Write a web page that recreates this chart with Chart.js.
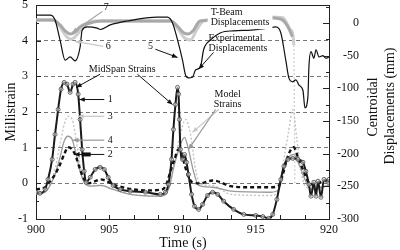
<!DOCTYPE html>
<html lang="en">
<head>
  <meta charset="UTF-8" />
  <title>MidSpan strains and centroidal displacements</title>
  <script src="https://cdn.jsdelivr.net/npm/chart.js"></script>
  <style>
    html, body { margin: 0; padding: 0; background: #fff; }
    #wrap { width: 400px; height: 250px; }
  </style>
</head>
<body>
<div id="wrap"><canvas id="chart" width="400" height="250"></canvas></div>
<script>
// --- data (time in s, strain in millistrain, displacement in mm) ---
const xTicks = [900, 905, 910, 915, 920];
const leftTicks = [-1, 0, 1, 2, 3, 4, 5];
const rightTicks = [0, -50, -100, -150, -200, -250, -300];

// 1: MidSpan strains (experimental, circles)
const t1 = [900.00, 900.27, 900.62, 900.82, 901.10, 901.30, 901.51, 901.71, 901.92, 902.12, 902.33, 902.53, 902.67, 902.88, 903.01, 903.15, 903.29, 903.42, 903.70, 904.04, 904.38, 904.66, 904.93, 905.27, 905.75, 906.44, 907.47, 908.49, 908.84, 909.04, 909.25, 909.38, 909.52, 909.66, 909.73, 909.79, 909.86, 910.00, 910.14, 910.27, 910.41, 910.62, 910.82, 911.10, 911.37, 911.71, 912.05, 912.40, 912.81, 913.49, 914.18, 915.00, 915.48, 915.89, 916.16, 916.44, 916.71, 916.92, 917.19, 917.53, 917.88, 918.22, 918.42, 918.63, 918.77, 918.97, 919.11, 919.25, 919.45, 919.66, 919.93, 920.00];
const s1 = [-0.25, -0.28, -0.17, 0.11, 0.67, 1.37, 2.07, 2.64, 2.83, 2.78, 2.55, 2.78, 2.83, 2.50, 1.79, 0.95, 0.34, 0.03, 0.17, 0.39, 0.45, 0.39, 0.17, -0.06, -0.17, -0.22, -0.25, -0.31, -0.25, -0.03, 0.67, 1.51, 2.21, 2.69, 2.50, 1.79, 0.95, 0.67, 0.81, 0.59, 0.25, -0.31, -0.64, -0.73, -0.59, -0.34, -0.25, -0.31, -0.50, -0.73, -0.87, -0.90, -0.93, -0.98, -0.87, -0.45, 0.11, 0.48, 0.67, 0.70, 0.67, 0.59, 0.34, -0.03, -0.36, 0.03, -0.36, 0.06, -0.39, 0.11, 0.03, 0.11];

// 2: thick dashed black
const t2 = [900.00, 900.62, 900.96, 901.30, 901.64, 901.92, 902.19, 902.47, 902.74, 903.01, 903.29, 903.56, 904.04, 904.38, 904.73, 905.27, 906.23, 907.47, 908.63, 908.90, 909.18, 909.45, 909.73, 909.93, 910.14, 910.41, 910.68, 911.23, 912.05, 912.60, 913.29, 914.66, 916.03, 916.58, 916.85, 917.12, 917.40, 917.60, 917.88, 918.22, 918.56, 918.77, 919.11, 919.45, 920.00];
const s2 = [-0.17, -0.11, 0.06, 0.25, 0.53, 0.81, 1.01, 0.95, 0.73, 0.39, 0.11, 0.00, 0.06, 0.11, 0.08, -0.03, -0.14, -0.20, -0.17, -0.03, 0.34, 0.67, 0.95, 0.87, 0.53, 0.17, 0.03, 0.00, 0.08, 0.03, -0.08, -0.11, -0.11, -0.06, 0.25, 0.67, 0.95, 1.01, 0.73, 0.39, 0.06, -0.03, 0.00, 0.03, 0.11];

// 3: light gray dotted (model)
const t3 = [900.00, 900.62, 900.96, 901.30, 901.64, 901.92, 902.19, 902.47, 902.74, 903.01, 903.29, 903.56, 904.38, 905.27, 906.44, 908.49, 909.04, 909.45, 909.86, 910.21, 910.55, 910.89, 911.23, 912.05, 913.29, 916.03, 916.58, 916.92, 917.26, 917.53, 917.81, 918.08, 918.42, 919.11, 920.00];
const s3 = [-0.25, -0.22, -0.03, 0.39, 1.09, 1.65, 1.88, 1.79, 1.23, 0.53, 0.06, -0.06, -0.06, -0.17, -0.31, -0.36, -0.17, 0.53, 1.37, 1.79, 1.37, 0.39, -0.03, -0.06, -0.31, -0.34, -0.17, 0.67, 1.51, 2.07, 1.23, 0.39, -0.11, -0.17, -0.03];

// 4: gray (model)
const t4 = [900.00, 900.62, 900.96, 901.30, 901.64, 901.92, 902.19, 902.47, 902.74, 903.01, 903.29, 903.70, 904.38, 905.27, 906.44, 908.49, 909.04, 909.45, 909.86, 910.14, 910.41, 910.75, 911.10, 912.05, 913.29, 916.03, 916.58, 916.92, 917.26, 917.60, 917.95, 918.36, 918.77, 919.45, 920.00];
const s4 = [-0.31, -0.25, -0.06, 0.25, 0.73, 1.18, 1.32, 1.23, 0.81, 0.34, 0.03, -0.08, -0.06, -0.17, -0.31, -0.36, -0.17, 0.53, 1.09, 1.29, 0.95, 0.34, -0.06, -0.11, -0.22, -0.25, -0.17, 0.39, 0.73, 0.81, 0.53, 0.11, -0.17, -0.11, -0.06];

// 5: experimental displacements (mm)
const t5 = [900.00, 900.96, 901.30, 901.64, 901.99, 902.33, 902.67, 903.01, 903.15, 903.49, 904.18, 904.38, 905.07, 906.23, 908.29, 908.97, 909.32, 909.66, 910.00, 910.21, 910.41, 910.68, 910.89, 911.23, 911.44, 911.92, 912.60, 913.49, 914.66, 915.82, 916.37, 916.71, 917.05, 917.26, 917.53, 917.74, 917.95, 918.22, 918.36, 918.56, 918.63, 918.77, 918.97, 919.11, 919.32, 919.59, 919.79, 920.00];
const d5 = [12, 12, 4.6, -26, -57, -52, -58, -37, -11, -6, -8, -10, -3, 3, 9, 9, 0, -26, -57, -80, -84, -83, -72, -67, -41, -26, -15, -12, -11, -8, -6, -15, -57, -84, -90, -87, -95, -103, -130, -113, -67, -44, -54, -41, -52, -50, -54, -52];

// 6: T-beam displacements, light gray
const t6 = [900.00, 901.16, 901.64, 902.05, 902.40, 902.80, 903.35, 904.00, 909.20, 909.66, 910.14, 910.55, 910.96, 911.44, 915.90, 916.85, 917.40, 917.60, 917.67];
const d6 = [4.6, 4.6, -6, -20, -25, -18, -3, 3, 3, -8, -23, -26, -11, 3, 9, 8, -11, -34, -245];

// 7: T-beam displacements, gray
const t7 = [900.00, 901.16, 901.64, 901.99, 902.33, 902.67, 903.00, 903.70, 904.40, 909.20, 909.66, 910.07, 910.40, 910.75, 911.20, 915.70, 916.70, 917.20, 917.50];
const d7 = [4.6, 4.6, -3, -12, -17, -14, -6, 0, 3, 3, -5, -15, -17, -11, 3, 8, 6, -6, -21];

const pts = (xs, ys) => xs.map((x, i) => ({ x: x, y: ys[i] }));
const SERIF = '"Liberation Serif", "DejaVu Serif", serif';

// labels and arrows, placed in (time, millistrain) coordinates
const notes = [
  { text: ['7'], t: 904.79, v: 4.93, align: 'center' },
  { text: ['6'], t: 904.93, v: 3.84, align: 'center' },
  { text: ['5'], t: 907.81, v: 3.84, align: 'center' },
  { text: ['MidSpan Strains'], t: 905.89, v: 3.20, align: 'center' },
  { text: ['1'], t: 905.07, v: 2.35, align: 'center' },
  { text: ['3'], t: 905.07, v: 1.88, align: 'center' },
  { text: ['4'], t: 905.07, v: 1.21, align: 'center' },
  { text: ['2'], t: 905.07, v: 0.81, align: 'center' },
  { text: ['T-Beam', 'Displacements'], t: 911.92, v: 4.80, align: 'left', mask: true },
  { text: ['Experimental', 'Displacements'], t: 911.78, v: 4.07, align: 'left' },
  { text: ['Model', 'Strains'], t: 913.08, v: 2.50, align: 'center' }
];
const arrows = [
  { from: [904.52, 4.82], to: [902.47, 4.23], color: '#a8a8a8', w: 1.2 },
  { from: [904.59, 3.84], to: [902.67, 3.98], color: '#c8c8c8', w: 1.2 },
  { from: [908.15, 3.76], to: [909.66, 3.53], color: '#111', w: 1 },
  { from: [904.38, 3.06], to: [902.74, 2.69], color: '#111', w: 1 },
  { from: [906.92, 3.06], to: [909.32, 2.21], color: '#111', w: 1 },
  { from: [904.66, 2.35], to: [902.95, 2.35], color: '#111', w: 1 },
  { from: [904.66, 1.88], to: [902.88, 1.88], color: '#c8c8c8', w: 1.2 },
  { from: [904.66, 1.21], to: [902.53, 1.21], color: '#999', w: 1.2 },
  { from: [904.66, 0.81], to: [902.60, 0.81], color: '#111', w: 1, thick: true },
  { from: [912.12, 3.67], to: [911.10, 3.20], color: '#111', w: 1 },
  { from: [912.47, 2.07], to: [910.68, 1.43], color: '#c8c8c8', w: 1.2 },
  { from: [912.26, 2.07], to: [910.41, 0.95], color: '#999', w: 1.2 }
];

function noPad(s) { s.paddingTop = 0; s.paddingBottom = 0; s.paddingLeft = 0; s.paddingRight = 0; }

const decor = {
  id: 'decor',
  afterDatasetsDraw(chart) {
    const { ctx, scales } = chart;
    const x = scales.x, y = scales.y;
    ctx.save();
    ctx.font = '10px ' + SERIF;
    ctx.textBaseline = 'middle';
    notes.forEach(n => {
      const px = x.getPixelForValue(n.t), py = y.getPixelForValue(n.v);
      ctx.textAlign = n.align;
      if (n.mask) {
        const w = Math.max(...n.text.map(s => ctx.measureText(s).width));
        ctx.fillStyle = '#fff';
        ctx.fillRect(px - 3, py - 7, w + 6, n.text.length * 10 + 4);
      }
      ctx.fillStyle = '#111';
      n.text.forEach((s, i) => ctx.fillText(s, px, py + i * 10));
    });
    arrows.forEach(r => {
      const x1 = x.getPixelForValue(r.from[0]), y1 = y.getPixelForValue(r.from[1]);
      const x2 = x.getPixelForValue(r.to[0]), y2p = y.getPixelForValue(r.to[1]);
      ctx.strokeStyle = r.color; ctx.fillStyle = r.color; ctx.lineWidth = r.w;
      ctx.beginPath(); ctx.moveTo(x1, y1); ctx.lineTo(x2, y2p); ctx.stroke();
      if (r.thick) {
        ctx.lineWidth = 4;
        ctx.beginPath();
        ctx.moveTo(x2 + (x1 - x2) * 0.25, y2p); ctx.lineTo(x2 + (x1 - x2) * 0.55, y2p);
        ctx.stroke();
      }
      const ang = Math.atan2(y2p - y1, x2 - x1), L = 6;
      ctx.beginPath();
      ctx.moveTo(x2, y2p);
      ctx.lineTo(x2 - L * Math.cos(ang - 0.4), y2p - L * Math.sin(ang - 0.4));
      ctx.lineTo(x2 - L * Math.cos(ang + 0.4), y2p - L * Math.sin(ang + 0.4));
      ctx.closePath(); ctx.fill();
    });
    ctx.restore();
  },
  afterDraw(chart) {
    const { ctx, chartArea: a, scales } = chart;
    const x = scales.x, y = scales.y, y2 = scales.y2;
    ctx.save();
    ctx.strokeStyle = '#222'; ctx.lineWidth = 1;
    // top frame line
    ctx.beginPath(); ctx.moveTo(a.left, a.top + 0.5); ctx.lineTo(a.right, a.top + 0.5); ctx.stroke();
    // inward ticks
    ctx.beginPath();
    for (let v = -1; v <= 5.001; v += 0.5) {
      const py = Math.round(y.getPixelForValue(v)) + 0.5, len = Number.isInteger(v) ? 5 : 3;
      ctx.moveTo(a.left, py); ctx.lineTo(a.left + len, py);
    }
    for (let m = -300; m <= 25; m += 25) {
      const py = Math.round(y2.getPixelForValue(m)) + 0.5, len = m % 50 === 0 ? 6 : 3;
      ctx.moveTo(a.right, py); ctx.lineTo(a.right - len, py);
    }
    for (let k = 1; k < 12; k++) {
      const px = Math.round(x.getPixelForValue(900 + k * 5 / 3)) + 0.5;
      ctx.moveTo(px, a.bottom); ctx.lineTo(px, a.bottom - 4);
    }
    ctx.stroke();
    // right tick labels
    ctx.fillStyle = '#111';
    ctx.font = '12px ' + SERIF;
    ctx.textAlign = 'right'; ctx.textBaseline = 'middle';
    rightTicks.forEach(m => ctx.fillText(String(m), a.right + 30, y2.getPixelForValue(m)));
    // axis titles
    ctx.font = '14px ' + SERIF;
    ctx.textAlign = 'center';
    ctx.fillText('Time (s)', 183, 243);
    ctx.save(); ctx.translate(11, 112); ctx.rotate(-Math.PI / 2); ctx.fillText('Millistrain', 0, 0); ctx.restore();
    ctx.save(); ctx.translate(373, 107); ctx.rotate(-Math.PI / 2); ctx.fillText('Centroidal', 0, 0); ctx.restore();
    ctx.save(); ctx.translate(390, 106); ctx.rotate(-Math.PI / 2); ctx.fillText('Displacements (mm)', 0, 0); ctx.restore();
    ctx.restore();
  }
};

// the last drop of series 6 is drawn thin and dotted, as in the source figure
const lastSeg = (ctx, n) => ctx.p1DataIndex === n - 1;

new Chart(document.getElementById('chart').getContext('2d'), {
  type: 'line',
  data: {
    datasets: [
      {
        label: '1', data: pts(t1, s1), yAxisID: 'y',
        borderColor: '#1a1a1a', borderWidth: 2,
        pointRadius: 2, pointBorderWidth: 0.8, pointBorderColor: '#444',
        pointBackgroundColor: 'rgba(255,255,255,0.5)', cubicInterpolationMode: 'monotone'
      },
      {
        label: '2', data: pts(t2, s2), yAxisID: 'y',
        borderColor: '#111', borderWidth: 2.4, borderDash: [4, 3],
        pointRadius: 0, cubicInterpolationMode: 'monotone'
      },
      {
        label: '4', data: pts(t4, s4), yAxisID: 'y',
        borderColor: '#9a9a9a', borderWidth: 1.3,
        pointRadius: 0, cubicInterpolationMode: 'monotone'
      },
      {
        label: '3', data: pts(t3, s3), yAxisID: 'y',
        borderColor: '#c4c4c4', borderWidth: 1.4, borderDash: [2, 2],
        pointRadius: 0, cubicInterpolationMode: 'monotone'
      },
      {
        label: '5', data: pts(t5, d5), yAxisID: 'y2',
        borderColor: '#111', borderWidth: 1.2,
        pointRadius: 0, cubicInterpolationMode: 'monotone'
      },
      {
        label: '7', data: pts(t7, d7), yAxisID: 'y2',
        borderColor: '#a8a8a8', borderWidth: 3,
        pointRadius: 0, cubicInterpolationMode: 'monotone'
      },
      {
        label: '6', data: pts(t6, d6), yAxisID: 'y2',
        borderColor: '#cdcdcd', borderWidth: 3,
        pointRadius: 0, cubicInterpolationMode: 'monotone',
        segment: {
          borderWidth: c => lastSeg(c, t6.length) ? 1.2 : 3,
          borderDash: c => lastSeg(c, t6.length) ? [2, 2] : undefined
        }
      }
    ]
  },
  options: {
    responsive: false,
    animation: false,
    layout: { padding: { top: 5, left: 0, right: 0, bottom: 0 } },
    plugins: { legend: { display: false }, tooltip: { enabled: false } },
    scales: {
      x: {
        type: 'linear', min: 900, max: 920,
        afterBuildTicks: s => { s.ticks = xTicks.map(v => ({ value: v })); },
        afterFit: s => { s.height = 31; noPad(s); },
        grid: { display: false, drawTicks: false },
        border: { display: true, color: '#222', width: 1 },
        ticks: { padding: 4, color: '#111', font: { family: SERIF, size: 12 }, maxRotation: 0 }
      },
      y: {
        position: 'left', min: -1, max: 5,
        afterBuildTicks: s => { s.ticks = leftTicks.map(v => ({ value: v })); },
        afterFit: s => { s.width = 36; noPad(s); },
        grid: {
          drawTicks: false, lineWidth: 0.8,
          color: c => (c.tick && c.tick.value >= 0 && c.tick.value <= 4) ? '#555' : 'rgba(0,0,0,0)'
        },
        border: { display: true, color: '#222', width: 1, dash: [4, 3] },
        ticks: { padding: 8, color: '#111', font: { family: SERIF, size: 12 } }
      },
      y2: {
        position: 'right', min: -300, max: 27.5,
        afterFit: s => { s.width = 71; noPad(s); },
        grid: { display: false, drawTicks: false },
        border: { display: true, color: '#222', width: 1 },
        ticks: { display: false }
      }
    }
  },
  plugins: [decor]
});
</script>
</body>
</html>
